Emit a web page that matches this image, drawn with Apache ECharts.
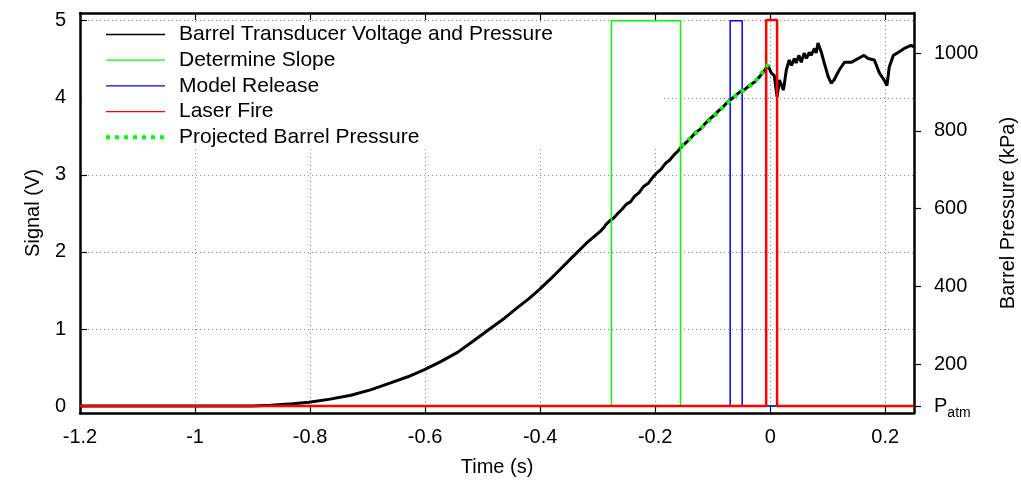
<!DOCTYPE html>
<html>
<head>
<meta charset="utf-8">
<script src="https://cdn.jsdelivr.net/npm/echarts@6/dist/echarts.min.js"></script>
<style>
  html, body { margin: 0; padding: 0; background: #fff; }
  #chart { width: 1021px; height: 480px; }
</style>
</head>
<body>
<div id="chart"></div>
<script>
// time (s), signal (V)
var barrelPts = [
    [-1.2, 0.00], [-0.90, 0.00], [-0.868, 0.01], [-0.83, 0.03], [-0.802, 0.05],
    [-0.765, 0.09], [-0.729, 0.14], [-0.695, 0.21], [-0.660, 0.30], [-0.630, 0.38],
    [-0.602, 0.47], [-0.572, 0.58], [-0.543, 0.70], [-0.515, 0.85], [-0.486, 1.01],
    [-0.462, 1.14], [-0.439, 1.28], [-0.420, 1.39], [-0.403, 1.50], [-0.375, 1.70],
    [-0.347, 1.91], [-0.320, 2.11], [-0.295, 2.27], [-0.290, 2.31], [-0.285, 2.36],
    [-0.278, 2.41], [-0.272, 2.44], [-0.265, 2.50], [-0.258, 2.55], [-0.250, 2.62],
    [-0.243, 2.65], [-0.236, 2.72], [-0.228, 2.77], [-0.220, 2.85], [-0.212, 2.89],
    [-0.205, 2.96], [-0.198, 3.02], [-0.190, 3.07], [-0.182, 3.15], [-0.175, 3.19],
    [-0.166, 3.27], [-0.160, 3.31], [-0.155, 3.36], [-0.146, 3.42], [-0.138, 3.48],
    [-0.130, 3.55], [-0.122, 3.59], [-0.115, 3.65], [-0.106, 3.72], [-0.098, 3.77],
    [-0.090, 3.83], [-0.082, 3.88], [-0.075, 3.94], [-0.068, 3.98], [-0.060, 4.03],
    [-0.052, 4.08], [-0.044, 4.11], [-0.036, 4.16], [-0.028, 4.20], [-0.020, 4.26],
    [-0.012, 4.33], [-0.004, 4.42],
    [0.002, 4.32], [0.007, 4.29], [0.012, 4.01], [0.016, 4.23], [0.023, 4.10],
    [0.028, 4.36], [0.033, 4.49], [0.037, 4.42], [0.042, 4.51], [0.045, 4.45],
    [0.050, 4.55], [0.054, 4.46], [0.059, 4.58], [0.063, 4.51], [0.068, 4.59],
    [0.071, 4.55], [0.077, 4.64], [0.080, 4.58], [0.083, 4.71], [0.089, 4.59],
    [0.094, 4.45], [0.101, 4.27], [0.106, 4.19], [0.111, 4.23], [0.120, 4.36],
    [0.129, 4.46], [0.141, 4.46], [0.153, 4.51], [0.163, 4.55], [0.170, 4.51],
    [0.181, 4.49], [0.190, 4.32], [0.198, 4.23], [0.203, 4.16], [0.207, 4.40],
    [0.214, 4.55], [0.223, 4.59], [0.233, 4.64], [0.245, 4.68], [0.250, 4.66]
];
var slopePts = [[-1.2, 0], [-0.276, 0], [-0.276, 5.0], [-0.156, 5.0], [-0.156, 0], [0.25, 0]];
var releasePts = [[-1.2, 0], [-0.0696, 0], [-0.0696, 5.0], [-0.0487, 5.0], [-0.0487, 0], [0.25, 0]];
var laserPts = [[-1.2, 0], [-0.007, 0], [-0.007, 5.01], [0.012, 5.01], [0.012, 0], [0.25, 0]];
var projectedPts = [[-0.155, 3.37], [-0.115, 3.64], [-0.063, 4.01], [-0.028, 4.19], [-0.003, 4.44]];

var seriesNames = ['Barrel Transducer Voltage and Pressure', 'Determine Slope', 'Model Release', 'Laser Fire', 'Projected Barrel Pressure'];
var voltTicks = [0, 1, 2, 3, 4, 5];
var pAtm = 93;
var kpaPerVolt = 198;
var kpaTicks = [pAtm, 200, 400, 600, 800, 1000];

var vMin = -0.09, vMax = 5.1;
var font = 'Liberation Sans, Arial, Helvetica, sans-serif';

var chart = echarts.init(document.getElementById('chart'));

function lineSeries(name, data, color, width, type) {
    return {
        name: name,
        type: 'line',
        data: data,
        symbol: 'none',
        silent: true,
        animation: false,
        lineStyle: { color: color, width: width, type: type || 'solid', cap: 'butt' },
        itemStyle: { color: color }
    };
}

var axisLine = { show: true, onZero: false, lineStyle: { color: '#000', width: 2.5 } };
var gridLine = { show: true, lineStyle: { color: '#888', width: 1, type: [1, 3] } };

var option = {
    animation: false,
    grid: { left: 80, right: 107, top: 13, bottom: 67, outerBoundsMode: 'none', containLabel: false },
    legend: {
        orient: 'vertical',
        left: 82,
        top: 23,
        padding: [1, 109, 0, 22],
        itemWidth: 59,
        itemHeight: 14,
        itemGap: 4.7,
        backgroundColor: '#fff',
        z: 1,
        selectedMode: false,
        itemStyle: { opacity: 0 },
        lineStyle: { width: 1.3 },
        textStyle: { fontSize: 21, fontFamily: font, color: '#000', lineHeight: 20, padding: [0, 0, 0, 9] },
        data: [
            { name: seriesNames[0] },
            { name: seriesNames[1] },
            { name: seriesNames[2] },
            { name: seriesNames[3] },
            { name: seriesNames[4], lineStyle: { width: 4, type: [4, 5] } }
        ]
    },
    xAxis: [{
        type: 'value',
        position: 'bottom',
        min: -1.2,
        max: 0.25,
        interval: 0.2,
        axisLine: axisLine,
        axisTick: { inside: true, length: 7, lineStyle: { color: '#000', width: 1.2 } },
        axisLabel: {
            margin: 14, fontSize: 20, fontFamily: font, color: '#000', showMaxLabel: false,
            formatter: function (v) { return String(+v.toFixed(1)); }
        },
        splitLine: gridLine,
        name: 'Time (s)',
        nameLocation: 'middle',
        nameGap: 44,
        nameTextStyle: { fontSize: 20, fontFamily: font, color: '#000' }
    }, {
        type: 'value',
        position: 'top',
        min: -1.2,
        max: 0.25,
        interval: 0.2,
        axisLine: axisLine,
        axisTick: { inside: true, length: 7, lineStyle: { color: '#000', width: 1.2 } },
        axisLabel: { show: false },
        splitLine: { show: false }
    }],
    yAxis: [{
        type: 'value',
        position: 'left',
        min: vMin,
        max: vMax,
        axisLine: axisLine,
        axisTick: { inside: true, length: 7, customValues: voltTicks, lineStyle: { color: '#000', width: 1.2 } },
        axisLabel: { margin: 14, fontSize: 20, fontFamily: font, color: '#000', customValues: voltTicks },
        splitLine: gridLine,
        name: 'Signal (V)',
        nameLocation: 'middle',
        nameGap: 37,
        nameTextStyle: { fontSize: 20, fontFamily: font, color: '#000' }
    }, {
        type: 'value',
        position: 'right',
        min: pAtm + kpaPerVolt * vMin,
        max: pAtm + kpaPerVolt * vMax,
        axisLine: axisLine,
        axisTick: { inside: false, length: 7, customValues: kpaTicks, lineStyle: { color: '#000', width: 1.2 } },
        axisLabel: {
            margin: 20, fontSize: 20, fontFamily: font, color: '#000', customValues: kpaTicks,
            formatter: function (v) { return v === pAtm ? '{p|P}{s|atm}' : String(v); },
            rich: {
                p: { fontSize: 20, fontFamily: font, color: '#000' },
                s: { fontSize: 14, fontFamily: font, color: '#000', verticalAlign: 'bottom', padding: [14, 0, 0, 0] }
            }
        },
        splitLine: { show: false },
        name: 'Barrel Pressure (kPa)',
        nameLocation: 'middle',
        nameGap: 84,
        nameTextStyle: { fontSize: 20, fontFamily: font, color: '#000' }
    }],
    series: [
        lineSeries(seriesNames[0], barrelPts, '#000000', 3),
        lineSeries(seriesNames[1], slopePts, '#00ff00', 1.5),
        lineSeries(seriesNames[2], releasePts, '#0000ff', 1.5),
        lineSeries(seriesNames[3], laserPts, '#ff0000', 2.5),
        lineSeries(seriesNames[4], projectedPts, '#00ff00', 4, [4, 5])
    ]
};
chart.setOption(option);
window.addEventListener('resize', function () {
    chart.resize();
});
</script>
</body>
</html>
